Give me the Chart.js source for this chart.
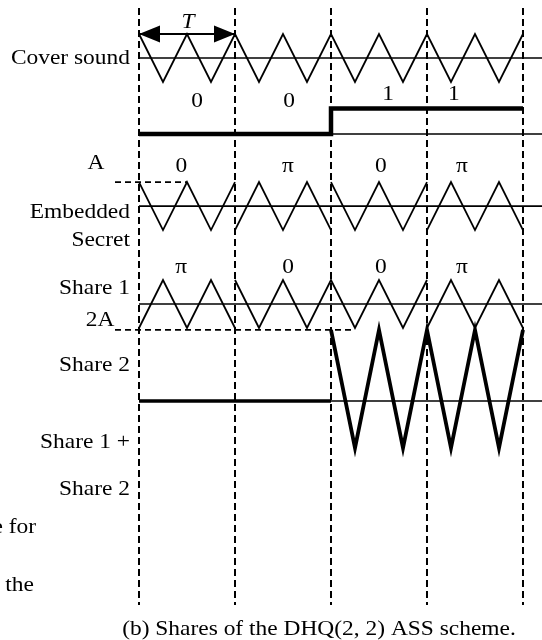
<!DOCTYPE html>
<html>
<head>
<meta charset="utf-8">
<script src="https://cdn.jsdelivr.net/npm/chart.js@4.4.1/dist/chart.umd.min.js"></script>
<style>
  html, body { margin: 0; padding: 0; background: #fff; }
</style>
</head>
<body>
<canvas id="shares" width="542" height="640"></canvas>
<script>
// ---- Data (x in periods T, y in amplitude units A) ----
const segments = [0, 1, 2, 3, 4];            // segment boundaries (dashed lines)
const secretBits = [0, 0, 1, 1];
const coverPhase = ['0', '0', '0', '0'];
const embeddedPhase = ['0', 'π', '0', 'π'];
const share1Phase = ['π', '0', '0', 'π'];
const share2Phase = [null, null, '0', '0']; // null = silent segment
const rowLabels = ['Cover sound', 'Embedded', 'Secret', 'Share 1', 'Share 2', 'Share 1 +', 'Share 2'];
const levelLabels = ['A', '2A'];
const sideText = ['e for', 'the'];
const captionText = '(b) Shares of the DHQ(2, 2) ASS scheme.';

// ---- Layout ----
const L = {
    xMin: -1.448, xMax: 4.198, yMin: -24.25, yMax: 2.417,
    cover: 0, bitLow: -3.17, bitHigh: -2.1,
    embedded: -6.17, share1: -10.25, share2: -14.29,
    share2Up: 2.96, share2Down: 1.96,
    dashTop: 2.08, dashBottom: -22.79,
    bitLabelY: [-1.82, -1.82, -1.5, -1.5], phaseLabelY: -4.5, share1LabelY: -8.71,
    bitLabelX: [0.604, 1.563, 2.594, 3.281],
    phaseLabelX: [0.44, 1.552, 2.52, 3.365],
    rowLabelX: -0.094,
    rowLabelY: [0, -6.42, -7.58, -9.58, -12.79, -16.0, -17.96],
    levelLabelPos: [[-0.448, -4.375], [-0.406, -10.92]],
    sideTextPos: [[-1.073, -19.54], [-1.094, -21.96]],
    captionPos: [1.875, -23.8],
    tLabelPos: [0.51, 1.5]
};
const FONT = "22px 'Liberation Serif', 'Times New Roman', serif";
const STRETCH = 1.065;

// triangle wave, two cycles per period, starting at peak (0) or trough (π)
function wave(phases, base, up, down) {
    const pts = [];
    phases.forEach((ph, i) => {
        if (ph === null) return;
        const s = ph === 'π' ? -1 : 1;
        for (let k = 0; k <= 4; k++) {
            const high = (k % 2 === 0) === (s === 1);
            const p = { x: i + k / 4, y: base + (high ? up : -down) };
            const last = pts[pts.length - 1];
            if (k === 0 && last) {
                if (last.x === p.x && last.y === p.y) continue;
                pts.push({ x: p.x, y: null });
            }
            pts.push(p);
        }
    });
    return pts;
}

function hline(x0, x1, y) { return [{ x: x0, y: y }, { x: x1, y: y }]; }
function vline(x, y0, y1) { return [{ x: x, y: y0 }, { x: x, y: y1 }]; }

function bitLine() {
    const pts = [];
    secretBits.forEach((b, i) => {
        const y = b ? L.bitHigh : L.bitLow;
        pts.push({ x: i, y: y }, { x: i + 1, y: y });
    });
    return pts;
}

const ds = (data, width, dash, extra) => Object.assign({
    data: data, borderColor: '#000', borderWidth: width, borderDash: dash || [],
    pointRadius: 0, fill: false, tension: 0, spanGaps: false,
    borderCapStyle: 'butt', borderJoinStyle: 'miter'
}, extra || {});

const datasets = [];
segments.forEach(s => datasets.push(ds(vline(s, L.dashTop, L.dashBottom), 2, [7, 4])));
datasets.push(ds(hline(0, L.xMax, L.cover), 1.6));
datasets.push(ds(wave(coverPhase, L.cover, 1, 1), 1.8));
datasets.push(ds(hline(0, 1, 1), 2, [], { label: 'arrow' }));
datasets.push(ds(hline(0, L.xMax, L.bitLow), 1.5));
datasets.push(ds(bitLine(), 4.5));
datasets.push(ds(hline(0, L.xMax, L.embedded), 1.6));
datasets.push(ds(wave(embeddedPhase, L.embedded, 1, 1), 1.8));
datasets.push(ds(hline(-0.25, 0.5, L.embedded + 1), 1.6, [6, 4]));
datasets.push(ds(hline(0, L.xMax, L.share1), 1.6));
datasets.push(ds(wave(share1Phase, L.share1, 1, 1), 1.8));
datasets.push(ds(hline(-0.25, 2.25, L.share2 + L.share2Up), 1.6, [6, 4]));
datasets.push(ds(hline(2, L.xMax, L.share2), 1.5));
datasets.push(ds(hline(0, 2, L.share2), 3.5));
datasets.push(ds(wave(share2Phase, L.share2, L.share2Up, L.share2Down), 3.8));

function drawText(ctx, s, px, py, align, italic) {
    ctx.save();
    ctx.translate(px, py);
    ctx.scale(STRETCH, 1);
    ctx.font = (italic ? 'italic ' : '') + FONT;
    ctx.fillStyle = '#000';
    ctx.textAlign = align;
    ctx.textBaseline = 'middle';
    ctx.fillText(s, 0, 0);
    ctx.restore();
}

const annotate = {
    id: 'annotate',
    afterDatasetsDraw(chart) {
        const ctx = chart.ctx;
        const xs = chart.scales.x, ys = chart.scales.y;
        const X = v => xs.getPixelForValue(v), Y = v => ys.getPixelForValue(v);

        // arrow heads on the T arrow
        const idx = chart.data.datasets.findIndex(d => d.label === 'arrow');
        const pts = chart.getDatasetMeta(idx).data;
        const a = pts[0], b = pts[pts.length - 1];
        ctx.save();
        ctx.fillStyle = '#000';
        [[a, 1], [b, -1]].forEach(([p, dir]) => {
            ctx.beginPath();
            ctx.moveTo(p.x, p.y);
            ctx.lineTo(p.x + dir * 21, p.y - 8.5);
            ctx.lineTo(p.x + dir * 21, p.y + 8.5);
            ctx.closePath();
            ctx.fill();
        });
        ctx.restore();

        drawText(ctx, 'T', X(L.tLabelPos[0]), Y(L.tLabelPos[1]), 'center', true);
        rowLabels.forEach((t, i) => drawText(ctx, t, X(L.rowLabelX), Y(L.rowLabelY[i]), 'right'));
        levelLabels.forEach((t, i) => drawText(ctx, t, X(L.levelLabelPos[i][0]), Y(L.levelLabelPos[i][1]), 'center'));
        secretBits.forEach((b, i) => drawText(ctx, String(b), X(L.bitLabelX[i]), Y(L.bitLabelY[i]), 'center'));
        embeddedPhase.forEach((t, i) => drawText(ctx, t, X(L.phaseLabelX[i]), Y(L.phaseLabelY), 'center'));
        share1Phase.forEach((t, i) => drawText(ctx, t, X(L.phaseLabelX[i]), Y(L.share1LabelY), 'center'));
        sideText.forEach((t, i) => drawText(ctx, t, X(L.sideTextPos[i][0]), Y(L.sideTextPos[i][1]), 'right'));
        drawText(ctx, captionText, X(L.captionPos[0]), Y(L.captionPos[1]), 'center');
    }
};

new Chart(document.getElementById('shares'), {
    type: 'line',
    data: { datasets: datasets },
    options: {
        responsive: false,
        animation: false,
        devicePixelRatio: 1,
        layout: { padding: 0 },
        scales: {
            x: { type: 'linear', min: L.xMin, max: L.xMax, display: false },
            y: { type: 'linear', min: L.yMin, max: L.yMax, display: false }
        },
        plugins: { legend: { display: false }, tooltip: { enabled: false } }
    },
    plugins: [annotate]
});
</script>
</body>
</html>
